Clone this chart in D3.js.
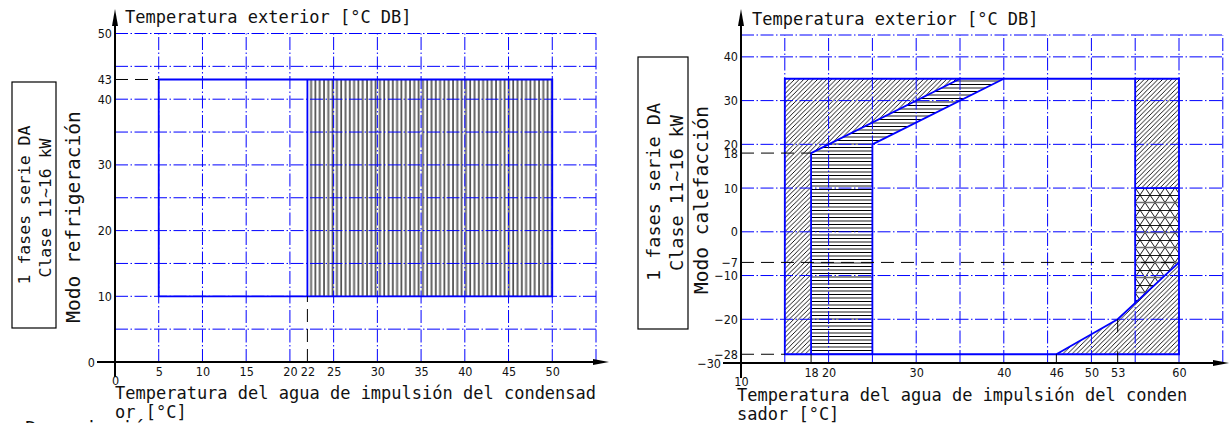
<!DOCTYPE html>
<html>
<head>
<meta charset="utf-8">
<script src="https://cdn.jsdelivr.net/npm/d3@7"></script>
<style>
  body { margin: 0; background: #fff; }
</style>
</head>
<body>
<script>
// ---- refrigeración (left panel) ----
var coolXTicks = [0, 5, 10, 15, 20, 22, 25, 30, 35, 40, 45, 50];
var coolYTicks = [0, 10, 20, 30, 40, 43, 50];
var coolGridX = [5, 10, 15, 20, 25, 30, 35, 40, 45, 50, 55];
var coolGridY = [5, 10, 15, 20, 25, 30, 35, 40, 45, 50];
var coolRange = [[5, 10], [50, 10], [50, 43], [5, 43]];
var coolHatch = [[22, 10], [50, 10], [50, 43], [22, 43]];
var coolDashed = [[[0, 43], [5, 43]], [[22, 0], [22, 10]]];

// ---- calefacción (right panel) ----
var heatXTicks = [10, 18, 20, 30, 40, 46, 50, 53, 60];
var heatYTicks = [-30, -28, -20, -10, -7, 0, 10, 18, 20, 30, 40];
var heatGridX = [15, 20, 25, 30, 35, 40, 45, 50, 55, 60, 65];
var heatGridY = [-20, -10, 0, 10, 20, 30, 40, 45];
var heatRange = [[15, -28], [60, -28], [60, 35], [15, 35]];
var heatDiagLeft = [[15, -28], [18, -28], [18, 18], [35, 35], [15, 35]];
var heatHoriz = [[18, -28], [25, -28], [25, 20], [40, 35], [35, 35], [18, 18]];
var heatDiagTop = [[55, 10], [60, 10], [60, 35], [55, 35]];
var heatTri = [[55, 10], [60, 10], [60, -7], [55, -16.3]];
var heatDiagLow = [[46, -28], [60, -28], [60, -7], [53, -20]];
var heatLines = [
  [[18, -28], [18, 18], [35, 35]],
  [[25, -28], [25, 20], [40, 35]],
  [[55, 35], [55, -16.3]],
  [[55, 10], [60, 10]],
  [[46, -28], [53, -20], [60, -7]]
];
var heatDashed = [[[10, 18], [18, 18]], [[10, -7], [60, -7]], [[10, -28], [15, -28]],
                  [[18, -30], [18, -28]], [[46, -30], [46, -28]]];
var heatMarks = [[[53, -20], [53, -23]], [[53, -27.3], [53, -30]]];

var blue = "#0000ff";
var mono = "'DejaVu Sans Mono', monospace";
var narrow = "'Liberation Sans Narrow', 'DejaVu Sans Condensed', sans-serif";

var svg = d3.select("body")
  .append("svg")
    .attr("width", 1229)
    .attr("height", 423);

var defs = svg.append("defs");

// vertical hatch: grey + black lines
var pv = defs.append("pattern").attr("id", "vhatch")
  .attr("patternUnits", "userSpaceOnUse").attr("width", 8.6).attr("height", 10);
pv.append("line").attr("x1", 1.5).attr("x2", 1.5).attr("y1", 0).attr("y2", 10)
  .attr("stroke", "#666").attr("stroke-width", 2);
pv.append("line").attr("x1", 5.8).attr("x2", 5.8).attr("y1", 0).attr("y2", 10)
  .attr("stroke", "#000").attr("stroke-width", 1.2);

// horizontal hatch
var ph = defs.append("pattern").attr("id", "hhatch")
  .attr("patternUnits", "userSpaceOnUse").attr("width", 10).attr("height", 7);
ph.append("line").attr("x1", 0).attr("x2", 10).attr("y1", 0.5).attr("y2", 0.5)
  .attr("stroke", "#000").attr("stroke-width", 1);
ph.append("line").attr("x1", 0).attr("x2", 10).attr("y1", 4).attr("y2", 4)
  .attr("stroke", "#707070").attr("stroke-width", 1.6);

// diagonal hatch
var pd = defs.append("pattern").attr("id", "dhatch")
  .attr("patternUnits", "userSpaceOnUse").attr("width", 4.6).attr("height", 4.6);
pd.append("path").attr("d", "M-1,1 L1,-1 M0,4.6 L4.6,0 M3.6,5.6 L5.6,3.6")
  .attr("stroke", "#000").attr("stroke-width", 0.9);

// triangle hatch
var pt = defs.append("pattern").attr("id", "thatch")
  .attr("patternUnits", "userSpaceOnUse").attr("width", 10).attr("height", 15);
pt.append("path").attr("d", "M0,0 L10,15 M0,15 L10,0 M0,0.5 H10")
  .attr("stroke", "#000").attr("stroke-width", 0.9);
pt.append("path").attr("d", "M0,7.5 H10")
  .attr("stroke", "#707070").attr("stroke-width", 1.5);

function drawPanel(p) {
  var x = d3.scaleLinear().domain(p.xDomain).range(p.xRange);
  var y = d3.scaleLinear().domain(p.yDomain).range(p.yRange);
  var line = d3.line().x(function(d) { return x(d[0]); }).y(function(d) { return y(d[1]); });
  var g = svg.append("g");

  // hatched areas
  p.fills.forEach(function(f) {
    g.append("path").attr("d", line(f.pts) + "Z").attr("fill", "url(#" + f.pattern + ")");
  });

  // dash-dot grid
  var gx0 = p.xDomain[0], gy0 = p.yDomain[0];
  var gxMax = d3.max(p.gridX), gyMax = d3.max(p.gridY);
  g.selectAll(".gx").data(p.gridX).enter().append("line")
    .attr("x1", function(d) { return x(d); }).attr("x2", function(d) { return x(d); })
    .attr("y1", y(gy0)).attr("y2", y(gyMax))
    .attr("stroke", blue).attr("stroke-width", 1).attr("stroke-dasharray", "13,2.5,1.5,2.5");
  g.selectAll(".gy").data(p.gridY).enter().append("line")
    .attr("x1", x(gx0)).attr("x2", x(gxMax))
    .attr("y1", function(d) { return y(d); }).attr("y2", function(d) { return y(d); })
    .attr("stroke", blue).attr("stroke-width", 1).attr("stroke-dasharray", "13,2.5,1.5,2.5");

  // outlines
  g.append("path").attr("d", line(p.range) + "Z")
    .attr("fill", "none").attr("stroke", blue).attr("stroke-width", 1.8);
  p.lines.forEach(function(l) {
    g.append("path").attr("d", line(l))
      .attr("fill", "none").attr("stroke", blue).attr("stroke-width", 1.8);
  });

  // dashed reference lines
  p.dashed.forEach(function(l) {
    g.append("path").attr("d", line(l))
      .attr("fill", "none").attr("stroke", "#000").attr("stroke-width", 1)
      .attr("stroke-dasharray", "13,7");
  });
  (p.marks || []).forEach(function(l) {
    g.append("path").attr("d", line(l)).attr("stroke", "#000").attr("stroke-width", 1);
  });

  // axes lines with arrows
  var ox = x(p.xDomain[0]), oy = y(p.yDomain[0]);
  g.append("line").attr("x1", ox - 18).attr("x2", p.arrowX - 12).attr("y1", oy).attr("y2", oy)
    .attr("stroke", "#000").attr("stroke-width", 2);
  g.append("path").attr("d", "M" + (p.arrowX - 16) + "," + (oy - 3) + " L" + p.arrowX + "," + oy +
      " L" + (p.arrowX - 16) + "," + (oy + 3) + "Z").attr("fill", "#000");
  g.append("line").attr("x1", ox).attr("x2", ox).attr("y1", oy + 15).attr("y2", 22)
    .attr("stroke", "#000").attr("stroke-width", 2);
  g.append("path").attr("d", "M" + (ox - 3) + ",26 L" + ox + ",9 L" + (ox + 3) + ",26Z").attr("fill", "#000");

  // tick labels
  var ya = g.append("g").attr("transform", "translate(" + ox + ",0)")
    .call(d3.axisLeft(y).tickValues(p.yTicks).tickSize(0).tickPadding(3));
  ya.select(".domain").remove();
  ya.selectAll(".tick text").filter(function(d) { return d === p.yDomain[0]; }).attr("x", -20);

  var xa = g.append("g").attr("transform", "translate(0," + oy + ")")
    .call(d3.axisBottom(x).tickValues(p.xTicks).tickSize(0).tickPadding(5));
  xa.select(".domain").remove();
  xa.selectAll(".tick text").filter(function(d) { return d === p.xDomain[0]; }).attr("y", 14);

  [ya, xa].forEach(function(a) {
    a.attr("font-family", narrow).attr("font-size", 12.5);
    a.selectAll("text").attr("fill", "#111");
  });

  // titles
  g.append("text").attr("x", p.titleX).attr("y", p.titleY)
    .attr("font-family", mono).attr("font-size", 17).attr("fill", "#111")
    .text("Temperatura exterior [°C DB]");
  var xl = g.append("text").attr("font-family", mono).attr("font-size", 17).attr("fill", "#111");
  xl.append("tspan").attr("x", p.xLabelX).attr("y", p.xLabelY).text(p.xLabel[0]);
  xl.append("tspan").attr("x", p.xLabelX).attr("y", p.xLabelY + 19).text(p.xLabel[1]);

  // side box
  g.append("rect").attr("x", p.box[0]).attr("y", p.box[1]).attr("width", p.box[2]).attr("height", p.box[3])
    .attr("fill", "none").attr("stroke", "#000").attr("stroke-width", 1.2);
  p.boxText.forEach(function(t) {
    g.append("text")
      .attr("transform", "translate(" + t.x + "," + t.y + ") rotate(-90)")
      .attr("text-anchor", "middle")
      .attr("font-family", mono).attr("font-size", t.size).attr("fill", "#111")
      .text(t.text);
  });
}

drawPanel({
  xDomain: [0, 55], xRange: [115, 596],
  yDomain: [0, 50], yRange: [362, 33.5],
  xTicks: coolXTicks, yTicks: coolYTicks,
  gridX: coolGridX, gridY: coolGridY,
  range: coolRange,
  fills: [{ pts: coolHatch, pattern: "vhatch" }],
  lines: [[[22, 10], [22, 43]]],
  dashed: coolDashed,
  arrowX: 609,
  titleX: 125, titleY: 23,
  xLabel: ["Temperatura del agua de impulsión del condensad", "or [°C]"],
  xLabelX: 115, xLabelY: 399,
  box: [12, 82, 44, 246],
  boxText: [
    { text: "1 fases serie DA", x: 30, y: 205, size: 16.5 },
    { text: "Clase 11~16 kW", x: 51, y: 208, size: 16.5 },
    { text: "Modo refrigeración", x: 80, y: 217, size: 19.5 }
  ]
});

drawPanel({
  xDomain: [10, 65], xRange: [741, 1222.8],
  yDomain: [-30, 45], yRange: [363, 35],
  xTicks: heatXTicks, yTicks: heatYTicks,
  gridX: heatGridX, gridY: heatGridY,
  range: heatRange,
  fills: [
    { pts: heatDiagLeft, pattern: "dhatch" },
    { pts: heatHoriz, pattern: "hhatch" },
    { pts: heatDiagTop, pattern: "dhatch" },
    { pts: heatTri, pattern: "thatch" },
    { pts: heatDiagLow, pattern: "dhatch" }
  ],
  lines: heatLines,
  dashed: heatDashed,
  marks: heatMarks,
  arrowX: 1229,
  titleX: 752, titleY: 25,
  xLabel: ["Temperatura del agua de impulsión del conden", "sador [°C]"],
  xLabelX: 737, xLabelY: 401,
  box: [638, 57, 50, 272],
  boxText: [
    { text: "1 fases serie DA", x: 660, y: 192, size: 18.5 },
    { text: "Clase 11~16 kW", x: 683, y: 193, size: 18.5 },
    { text: "Modo calefacción", x: 708, y: 200, size: 19.5 }
  ]
});

// clipped caption at the bottom edge
svg.append("text").attr("x", 25).attr("y", 435)
  .attr("font-family", mono).attr("font-size", 20).attr("fill", "#111")
  .text("Descripción");
</script>
</body>
</html>
